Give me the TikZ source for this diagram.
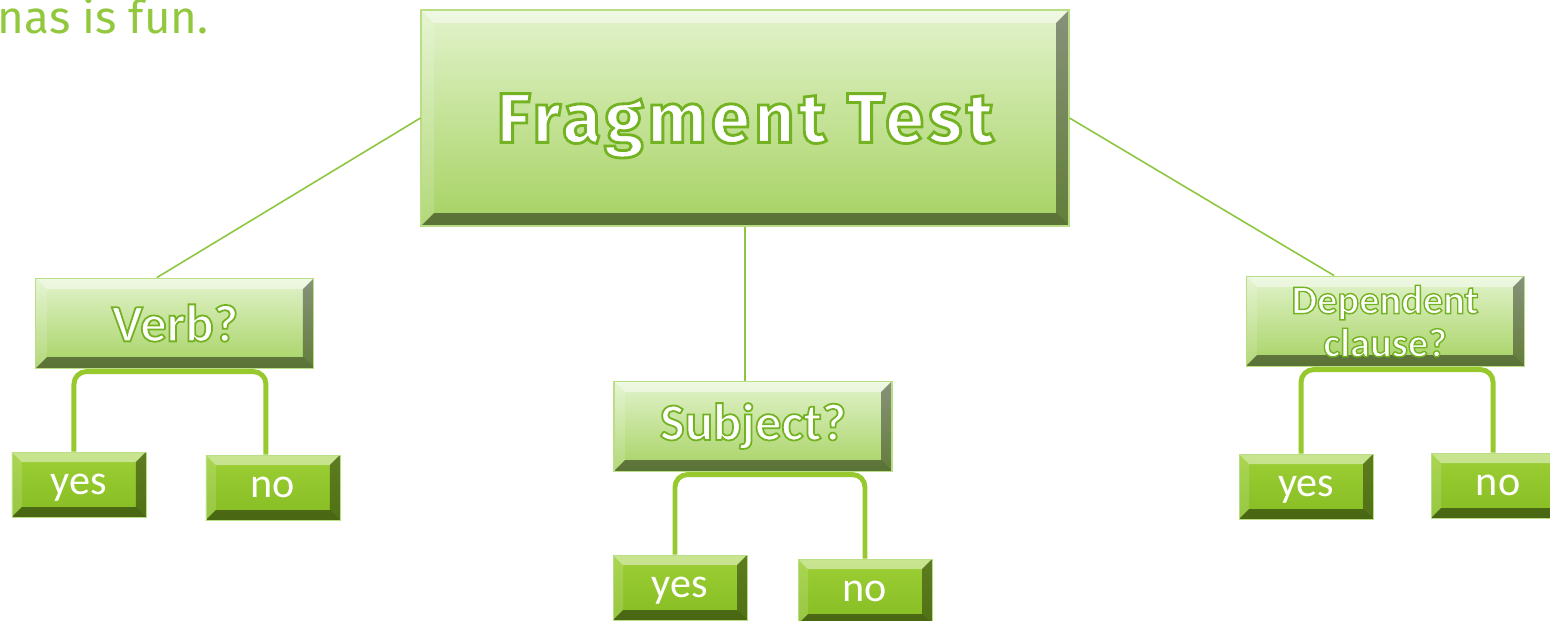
\documentclass[tikz,border=0pt]{standalone}
\usepackage{fontspec}
\setmainfont{Carlito}
\newfontfamily\titlefont[LetterSpace=6]{Fira Sans}
\newfontfamily\slidefont{Fira Sans}
\usetikzlibrary{positioning}
\usepackage{xcolor}

\definecolor{linegreen}{HTML}{8DC63F}
\definecolor{branchgreen}{HTML}{97C92E}
\definecolor{textgreen}{HTML}{92C83E}
\definecolor{edgegreen}{HTML}{B9DE86}
\definecolor{paletop}{HTML}{E2F3CC}
\definecolor{palebottom}{HTML}{A6D262}
\definecolor{leaftop}{HTML}{9CCF35}
\definecolor{leafbottom}{HTML}{86BD22}

% white letters with a green rim
\newcommand\rimtext[2]{\special{pdf:literal direct 2 Tr #1 w 0.45 0.70 0.13 RG}#2\special{pdf:literal direct 0 Tr}}

\begin{document}
\begin{tikzpicture}[
    bevel/.style={path picture={
        \path (path picture bounding box.south west) coordinate (bsw)
              (path picture bounding box.north east) coordinate (bne)
              (path picture bounding box.north west) coordinate (bnw)
              (path picture bounding box.south east) coordinate (bse);
        \fill[white, opacity=0.45] (bnw) -- (bne) -- ([shift={(-#1,-#1)}]bne) -- ([shift={(#1,-#1)}]bnw) -- cycle;
        \fill[white, opacity=0.15] (bnw) -- (bsw) -- ([shift={(#1,#1)}]bsw) -- ([shift={(#1,-#1)}]bnw) -- cycle;
        \fill[black, opacity=0.40] (bne) -- (bse) -- ([shift={(-#1,#1)}]bse) -- ([shift={(-#1,-#1)}]bne) -- cycle;
        \fill[black, opacity=0.45] (bsw) -- (bse) -- ([shift={(-#1,#1)}]bse) -- ([shift={(#1,#1)}]bsw) -- cycle;
    }},
    question/.style={rectangle, draw=edgegreen, line width=0.6pt, top color=paletop, bottom color=palebottom,
        inner sep=0pt, minimum width=5.56cm, minimum height=1.8cm, align=center, text=white, bevel=0.22cm},
    answer/.style={rectangle, draw=edgegreen, line width=0.5pt, top color=leaftop, bottom color=leafbottom,
        inner sep=0pt, minimum width=2.68cm, minimum height=1.3cm, text=white, text depth=0pt,
        font=\fontsize{24}{26}\selectfont, bevel=0.2cm},
    link/.style={draw=linegreen, line width=0.9pt},
    branch/.style={draw=branchgreen, line width=2.8pt, rounded corners=0.25cm}
]
    \useasboundingbox (0,0) rectangle (31,-12.4);

    % Title
    \node[question, minimum width=12.96cm, minimum height=4.32cm, bevel=0.26cm, text depth=0pt,
          font=\titlefont\bfseries\fontsize{40}{42}\selectfont] (test) at (14.9,-2.36)
        {\rimtext{1.6}{Fragment Test}};
    \node[anchor=base west, inner sep=0pt, text=textgreen, font=\slidefont\fontsize{26}{28}\selectfont]
        (slide) at (-0.05,-0.66) {nas is fun.};

    % Questions
    \node[question, below left=1.02cm and 2.12cm of test, font=\bfseries\fontsize{30}{32}\selectfont] (verb)
        {\rimtext{1}{Verb?}};
    \node[question, below=3.08cm of test, xshift=0.16cm, font=\bfseries\fontsize{30}{32}\selectfont] (subject)
        {\rimtext{1}{Subject?}};
    \node[question, below right=0.98cm and 3.52cm of test, font=\bfseries\fontsize{23}{24.5}\selectfont] (clause)
        {\rimtext{0.8}{Dependent}\\\rimtext{0.8}{clause?}};

    % Answers
    \node[answer, below=1.66cm of verb, xshift=-1.92cm] (verbyes) {yes};
    \node[answer, below=1.72cm of verb, xshift=1.96cm] (verbno) {no};
    \node[answer, below=1.66cm of subject, xshift=-1.46cm] (subjyes) {yes};
    \node[answer, below=1.74cm of subject, xshift=2.24cm] (subjno) {no};
    \node[answer, below=1.74cm of clause, xshift=-1.58cm] (clauseyes) {yes};
    \node[answer, below=1.72cm of clause, xshift=2.26cm] (clauseno) {no};

    % Connections
    \draw[link] (test.west) -- ([xshift=-0.36cm]verb.north);
    \draw[link] (test.south) -- (test.south |- subject.north);
    \draw[link] (test.east) -- ([xshift=-1.02cm]clause.north);

    \draw[branch] ([xshift=-0.1cm]verbyes.north) |- ([yshift=-0.06cm]verb.south) -| ([xshift=-0.14cm]verbno.north);
    \draw[branch] ([xshift=-0.1cm]subjyes.north) |- ([yshift=-0.06cm]subject.south) -| (subjno.north);
    \draw[branch] ([xshift=-0.1cm]clauseyes.north) |- ([yshift=-0.06cm]clause.south) -| ([xshift=-0.1cm]clauseno.north);
\end{tikzpicture}
\end{document}
